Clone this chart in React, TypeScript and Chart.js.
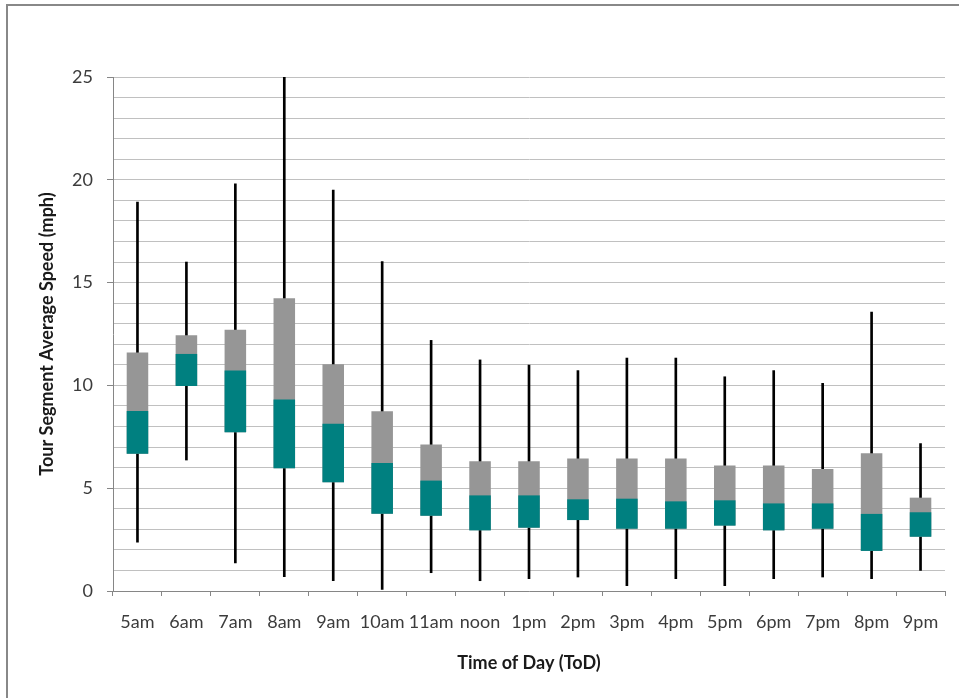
import React, { useEffect, useRef } from 'react';
import { Chart, registerables } from 'chart.js';

Chart.register(...registerables);

const categories = ['5am', '6am', '7am', '8am', '9am', '10am', '11am', 'noon', '1pm', '2pm', '3pm', '4pm', '5pm', '6pm', '7pm', '8pm', '9pm'];
const whiskerLow = [2.37, 6.37, 1.36, 0.7, 0.5, 0.08, 0.89, 0.5, 0.6, 0.68, 0.26, 0.6, 0.26, 0.6, 0.68, 0.6, 1.0];
const q1 = [6.68, 9.97, 7.72, 5.97, 5.29, 3.76, 3.66, 2.95, 3.08, 3.45, 3.03, 3.03, 3.18, 2.95, 3.03, 1.95, 2.64];
const median = [8.75, 11.53, 10.72, 9.32, 8.14, 6.23, 5.37, 4.65, 4.65, 4.46, 4.49, 4.36, 4.41, 4.26, 4.26, 3.75, 3.83];
const q3 = [11.6, 12.44, 12.71, 14.24, 11.03, 8.74, 7.12, 6.31, 6.31, 6.45, 6.45, 6.45, 6.1, 6.1, 5.93, 6.7, 4.54];
const whiskerHigh = [18.92, 16.0, 19.8, 25, 19.5, 16.02, 12.19, 11.24, 10.99, 10.72, 11.33, 11.33, 10.42, 10.72, 10.1, 13.57, 7.17];

const yMin = 0;
const yMax = 25;
const yMinorStep = 1;
const yMajorStep = 5;

const xTitle = 'Time of Day (ToD)';
const yTitle = 'Tour Segment Average Speed (mph)';

const FONT = 'Lato';

export default function App() {
  const canvasRef = useRef<HTMLCanvasElement | null>(null);

  useEffect(() => {
    const canvas = canvasRef.current;
    if (!canvas) return;
    const chart = new Chart(canvas, {
      type: 'bar',
      data: {
        labels: categories,
        datasets: [
          {
            label: 'lower box',
            data: categories.map((_, i) => [q1[i], median[i]]),
            backgroundColor: '#008080',
            borderWidth: 0,
            borderSkipped: false,
            barPercentage: 0.44,
            categoryPercentage: 1,
            grouped: false,
            order: 1,
          },
          {
            label: 'upper box',
            data: categories.map((_, i) => [q1[i], q3[i]]),
            backgroundColor: '#969696',
            borderWidth: 0,
            borderSkipped: false,
            barPercentage: 0.44,
            categoryPercentage: 1,
            grouped: false,
            order: 2,
          },
          {
            label: 'whisker',
            data: categories.map((_, i) => [whiskerLow[i], whiskerHigh[i]]),
            backgroundColor: '#000000',
            borderWidth: 0,
            borderSkipped: false,
            barThickness: 2,
            grouped: false,
            order: 3,
          },
        ],
      },
      options: {
        responsive: false,
        animation: false,
        events: [],
        layout: { padding: { top: 77, right: 14, bottom: 0, left: 0 } },
        plugins: {
          legend: { display: false },
          tooltip: { enabled: false },
          title: { display: false },
        },
        scales: {
          x: {
            offset: true,
            grid: {
              offset: true,
              drawOnChartArea: false,
              drawTicks: true,
              tickLength: 5,
              tickColor: '#868686',
              tickWidth: 1,
            },
            border: { color: '#868686', width: 1 },
            ticks: {
              autoSkip: false,
              maxRotation: 0,
              minRotation: 0,
              padding: 15,
              color: '#3c3c3c',
              font: { family: FONT, size: 18 },
            },
            title: {
              display: true,
              text: xTitle,
              color: '#1a1a1a',
              font: { family: FONT, size: 18, weight: 'bold' },
              padding: { top: 0, bottom: 24 },
            },
            afterFit: (scale: any) => {
              scale.height = 107;
            },
          },
          y: {
            min: yMin,
            max: yMax,
            grid: {
              color: '#c0c0c0',
              lineWidth: 1,
              drawTicks: true,
              tickLength: 6,
              tickColor: (ctx: any) => (ctx.tick && ctx.tick.value % yMajorStep === 0 ? '#868686' : 'rgba(0,0,0,0)'),
            },
            border: { color: '#868686', width: 1 },
            ticks: {
              stepSize: yMinorStep,
              autoSkip: false,
              padding: 14,
              color: '#3c3c3c',
              font: { family: FONT, size: 18 },
              callback: (v: any) => (Number(v) % yMajorStep === 0 ? String(v) : ''),
            },
            title: {
              display: true,
              text: yTitle,
              color: '#1a1a1a',
              font: { family: FONT, size: 18, weight: 'bold' },
              padding: { top: 36, bottom: 0 },
            },
            afterFit: (scale: any) => {
              scale.width = 113;
            },
          },
        },
      },
    });
    return () => chart.destroy();
  }, []);

  return (
    <div style={{ position: 'absolute', left: 0, top: 0, width: 959, height: 698, background: '#ffffff', overflow: 'hidden' }}>
      <div
        style={{
          position: 'absolute',
          left: 6,
          top: 4,
          width: 1000,
          height: 1000,
          borderLeft: '2px solid #888888',
          borderTop: '2px solid #888888',
          boxSizing: 'border-box',
        }}
      />
      <canvas ref={canvasRef} width={959} height={698} style={{ position: 'absolute', left: 0, top: 0 }} />
    </div>
  );
}
